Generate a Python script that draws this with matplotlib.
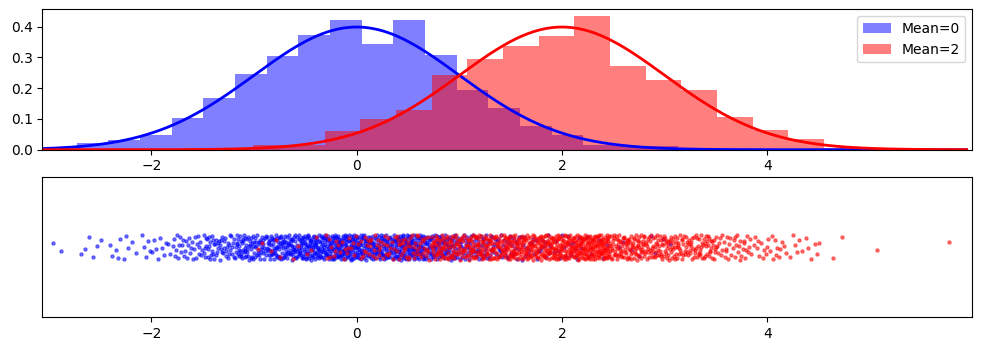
import numpy as np
import matplotlib
matplotlib.use('Agg')
import matplotlib.pyplot as plt

# histogram heights (density), 20 bins each
blue_min, blue_max = -3.035, 3.133
blue_heights = [0.0065, 0.021, 0.032, 0.048, 0.102, 0.167, 0.246, 0.305, 0.373, 0.421,
                0.345, 0.421, 0.308, 0.194, 0.136, 0.077, 0.049, 0.016, 0.013, 0.013]

red_min, red_max = -1.007, 5.94
red_heights = [0.0144, 0.0144, 0.061, 0.100, 0.129, 0.243, 0.295, 0.338, 0.371, 0.435,
               0.273, 0.227, 0.194, 0.107, 0.064, 0.035, 0.006, 0.003, 0.0, 0.003]

means = [0, 2]
labels = ['Mean=0', 'Mean=2']
colors = ['blue', 'red']
n_samples = 1000

x_left, x_right = -3.062, 5.997


def halton(i, base):
    # low discrepancy sequence, used only to spread points inside a bin
    f, r = 1.0, 0.0
    while i > 0:
        f /= base
        r += f * (i % base)
        i //= base
    return r


def strip_points(lo, hi, heights):
    edges = np.linspace(lo, hi, len(heights) + 1)
    w = edges[1] - edges[0]
    xs, ys = [], []
    k = 0
    for b, h in enumerate(heights):
        cnt = int(round(h * n_samples * w))
        for j in range(cnt):
            xs.append(edges[b] + w * halton(j + 1, 2))
            ys.append((halton(k + 1, 3) - 0.5) * 0.36)
            k += 1
    return np.array(xs), np.array(ys)


fig = plt.figure(figsize=(9.81, 3.51), dpi=100)
ax1 = fig.add_axes([0.0432, 0.5735, 0.948, 0.4])
ax2 = fig.add_axes([0.0432, 0.0969, 0.948, 0.398])

# 위: 히스토그램 + 정규분포 곡선
for lo, hi, heights, c, lab in [(blue_min, blue_max, blue_heights, 'blue', labels[0]),
                                (red_min, red_max, red_heights, 'red', labels[1])]:
    edges = np.linspace(lo, hi, len(heights) + 1)
    ax1.hist(edges[:-1], bins=edges, weights=heights, color=c, alpha=0.5, label=lab)

xs = np.linspace(x_left, red_max, 400)
for m, c in zip(means, colors):
    ax1.plot(xs, np.exp(-0.5 * (xs - m) ** 2) / np.sqrt(2 * np.pi), color=c, linewidth=2)

ax1.set_xlim(x_left, x_right)
ax1.set_ylim(0, 0.4566)
ax1.set_xticks([-2, 0, 2, 4])
ax1.set_yticks([0.0, 0.1, 0.2, 0.3, 0.4])
ax1.legend(loc='upper right')

# 아래: strip plot
bx, by = strip_points(blue_min, blue_max, blue_heights)
rx, ry = strip_points(red_min, red_max, red_heights)
ax2.scatter(bx, by, s=5, color='blue', alpha=0.5)
ax2.scatter(rx, ry, s=5, color='red', alpha=0.5)
ax2.set_xlim(x_left, x_right)
ax2.set_ylim(-1, 1)
ax2.set_xticks([-2, 0, 2, 4])
ax2.set_yticks([])

plt.savefig('out.png', dpi=100)
